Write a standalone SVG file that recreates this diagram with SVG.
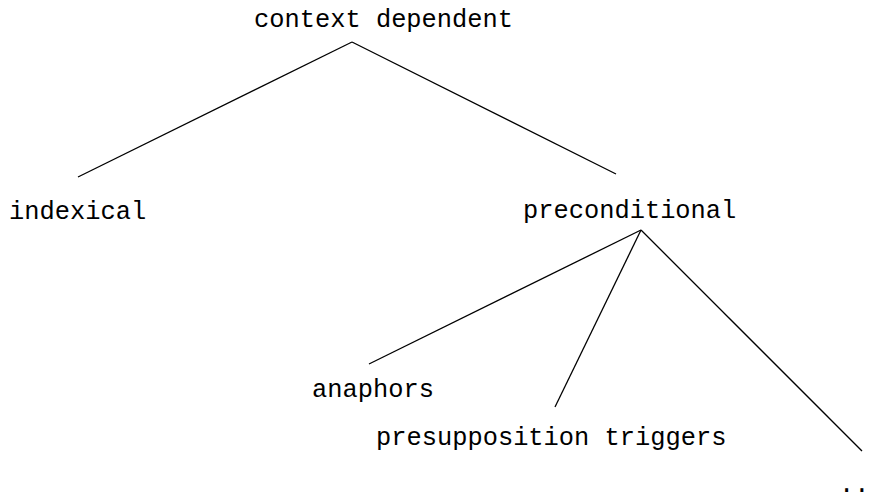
<svg xmlns="http://www.w3.org/2000/svg" width="873" height="494" viewBox="0 0 873 494">
<style>
text { font-family: "Liberation Mono", "DejaVu Sans Mono", monospace; font-size: 25.4px; fill: #000; }
.edge { stroke: #000; stroke-width: 1.3; fill: none; }
</style>
<rect width="873" height="494" fill="#fff"/>
<g id="connectors">
<line class="edge" x1="352" y1="42" x2="78" y2="177"/>
<line class="edge" x1="352" y1="42" x2="616" y2="174"/>
<line class="edge" x1="641" y1="230" x2="369" y2="364"/>
<line class="edge" x1="641" y1="230" x2="555" y2="407"/>
<line class="edge" x1="641" y1="230" x2="862" y2="451"/>
</g>
<g id="n-context"><text x="254" y="27">context dependent</text></g>
<g id="n-indexical"><text x="9" y="219">indexical</text></g>
<g id="n-preconditional"><text x="523" y="218">preconditional</text></g>
<g id="n-anaphors"><text x="312" y="397">anaphors</text></g>
<g id="n-presupposition"><text x="376" y="445">presupposition triggers</text></g>
<g id="n-more"><text x="839" y="492">..</text></g>
</svg>
